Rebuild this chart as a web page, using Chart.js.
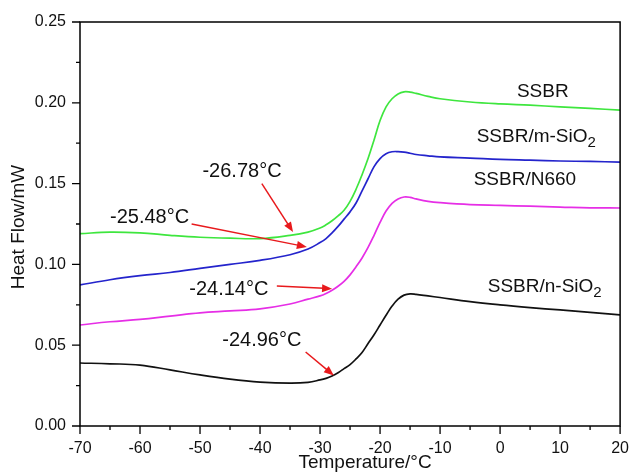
<!DOCTYPE html>
<html>
<head>
<meta charset="utf-8">
<script src="https://cdn.jsdelivr.net/npm/chart.js@4"></script>
<style>
  body { margin: 0; background: #fff; }
  #wrap { width: 634px; height: 475px; }
</style>
</head>
<body>
<div id="wrap"><canvas id="dscChart"></canvas></div>
<script>
// temperatures (°C) and heat flow readings (mW)
const temps = [-70, -65, -60, -55, -50, -45, -40, -35, -32, -30, -29, -28, -27, -26, -25, -24, -23, -22, -21, -20, -19, -18, -17, -16, -15, -14, -12, -10, -5, 0, 5, 10, 15, 20];

const ssbr = [0.119, 0.120, 0.1195, 0.118, 0.1168, 0.1162, 0.116, 0.118, 0.120, 0.1225, 0.1245, 0.127, 0.130, 0.1335, 0.139, 0.1465, 0.1555, 0.1655, 0.177, 0.189, 0.1975, 0.2025, 0.2055, 0.2068, 0.2066, 0.2058, 0.204, 0.2025, 0.2005, 0.1993, 0.1985, 0.1975, 0.1965, 0.1955];
const ssbrMSiO2 = [0.0873, 0.0905, 0.093, 0.095, 0.0975, 0.100, 0.1025, 0.106, 0.1095, 0.1135, 0.116, 0.1195, 0.1235, 0.128, 0.1325, 0.138, 0.1455, 0.153, 0.1605, 0.1655, 0.1685, 0.1697, 0.1698, 0.1695, 0.1688, 0.168, 0.1672, 0.1665, 0.1658, 0.165, 0.1645, 0.164, 0.1637, 0.1633];
const ssbrN660 = [0.0625, 0.0645, 0.066, 0.068, 0.070, 0.0712, 0.0725, 0.0755, 0.0785, 0.0805, 0.082, 0.084, 0.0865, 0.0895, 0.0935, 0.0985, 0.104, 0.1105, 0.118, 0.126, 0.133, 0.1378, 0.1405, 0.1417, 0.1415, 0.1405, 0.139, 0.1382, 0.137, 0.1365, 0.136, 0.1355, 0.135, 0.1349];
const ssbrNSiO2 = [0.039, 0.0385, 0.0377, 0.0347, 0.0316, 0.029, 0.0272, 0.0265, 0.027, 0.0285, 0.0295, 0.031, 0.033, 0.0355, 0.038, 0.0415, 0.0455, 0.051, 0.0565, 0.0625, 0.0685, 0.0742, 0.0785, 0.081, 0.0818, 0.0815, 0.0805, 0.0795, 0.077, 0.075, 0.0733, 0.0718, 0.0703, 0.0687];

// curve labels: [main text, subscript, x, y]
const curveLabels = [
  ["SSBR", "", 2.8, 0.2067],
  ["SSBR/m-SiO", "2", -3.9, 0.1788],
  ["SSBR/N660", "", -4.4, 0.1522],
  ["SSBR/n-SiO", "2", -2.05, 0.086]
];

// glass transition notes: [text, textX, textY, arrowFromX, arrowFromY, arrowToX, arrowToY]
const tgNotes = [
  ["-26.78°C", -49.6, 0.1572, -39.7, 0.150, -34.5, 0.1200],
  ["-25.48°C", -65.0, 0.1293, -51.4, 0.125, -32.2, 0.1108],
  ["-24.14°C", -51.8, 0.0842, -37.2, 0.0866, -28.0, 0.0850],
  ["-24.96°C", -46.3, 0.0532, -32.4, 0.0458, -27.7, 0.0312]
];

const xTicks = [-70, -60, -50, -40, -30, -20, -10, 0, 10, 20];
const yTicks = [0, 0.05, 0.10, 0.15, 0.20, 0.25];

function toPoints(ys) {
  return temps.map((t, i) => ({ x: t, y: ys[i] }));
}

function drawArrow(ctx, x1, y1, x2, y2) {
  const ang = Math.atan2(y2 - y1, x2 - x1);
  const head = 10;
  const half = 4;
  ctx.beginPath();
  ctx.moveTo(x1, y1);
  ctx.lineTo(x2 - head * 0.8 * Math.cos(ang), y2 - head * 0.8 * Math.sin(ang));
  ctx.stroke();
  ctx.beginPath();
  ctx.moveTo(x2, y2);
  ctx.lineTo(x2 - head * Math.cos(ang) + half * Math.sin(ang), y2 - head * Math.sin(ang) - half * Math.cos(ang));
  ctx.lineTo(x2 - head * Math.cos(ang) - half * Math.sin(ang), y2 - head * Math.sin(ang) + half * Math.cos(ang));
  ctx.closePath();
  ctx.fill();
}

// box, outward ticks, titles and annotations
const decorations = {
  id: "decorations",
  afterDraw(chart) {
    const ctx = chart.ctx;
    const xs = chart.scales.x;
    const ys = chart.scales.y;
    const a = chart.chartArea;
    ctx.save();
    ctx.strokeStyle = "#000";
    ctx.lineWidth = 1.5;
    ctx.strokeRect(a.left, a.top, a.right - a.left, a.bottom - a.top);

    ctx.lineWidth = 1.3;
    ctx.beginPath();
    for (let v = -70; v <= 20; v += 5) {
      const px = xs.getPixelForValue(v);
      const len = v % 10 === 0 ? 8 : 4;
      ctx.moveTo(px, a.bottom);
      ctx.lineTo(px, a.bottom + len);
    }
    for (let k = 0; k <= 10; k++) {
      const py = ys.getPixelForValue(k * 0.025);
      const len = k % 2 === 0 ? 8 : 4;
      ctx.moveTo(a.left, py);
      ctx.lineTo(a.left - len, py);
    }
    ctx.stroke();

    // axis titles
    ctx.fillStyle = "#111";
    ctx.font = "19px 'Liberation Sans', Arial, sans-serif";
    ctx.textAlign = "center";
    ctx.textBaseline = "middle";
    ctx.fillText("Temperature/°C", (a.left + a.right) / 2 + 15, 463);
    ctx.save();
    ctx.translate(19, (a.top + a.bottom) / 2 + 3);
    ctx.rotate(-Math.PI / 2);
    ctx.fillText("Heat Flow/mW", 0, 0);
    ctx.restore();

    // curve labels
    ctx.textAlign = "left";
    curveLabels.forEach(([txt, sub, x, y]) => {
      const px = xs.getPixelForValue(x);
      const py = ys.getPixelForValue(y);
      ctx.font = "19px 'Liberation Sans', Arial, sans-serif";
      ctx.fillText(txt, px, py);
      if (sub) {
        const w = ctx.measureText(txt).width;
        ctx.font = "15px 'Liberation Sans', Arial, sans-serif";
        ctx.fillText(sub, px + w, py + 6);
      }
    });

    // Tg notes with red arrows
    ctx.font = "20px 'Liberation Sans', Arial, sans-serif";
    ctx.strokeStyle = "#e8191c";
    ctx.fillStyle = "#e8191c";
    ctx.lineWidth = 1.5;
    tgNotes.forEach(([txt, tx, ty, fx, fy, ex, ey]) => {
      drawArrow(ctx, xs.getPixelForValue(fx), ys.getPixelForValue(fy),
        xs.getPixelForValue(ex), ys.getPixelForValue(ey));
    });
    ctx.fillStyle = "#111";
    tgNotes.forEach(([txt, tx, ty]) => {
      ctx.fillText(txt, xs.getPixelForValue(tx), ys.getPixelForValue(ty));
    });
    ctx.restore();
  }
};

const lineStyle = {
  pointRadius: 0,
  borderWidth: 1.7,
  tension: 0.4,
  fill: false
};

new Chart(document.getElementById("dscChart"), {
  type: "line",
  data: {
    datasets: [
      { label: "SSBR", data: toPoints(ssbr), borderColor: "#3ee63e", ...lineStyle },
      { label: "SSBR/m-SiO2", data: toPoints(ssbrMSiO2), borderColor: "#2424cc", ...lineStyle },
      { label: "SSBR/N660", data: toPoints(ssbrN660), borderColor: "#e62ee6", ...lineStyle },
      { label: "SSBR/n-SiO2", data: toPoints(ssbrNSiO2), borderColor: "#111111", ...lineStyle }
    ]
  },
  options: {
    responsive: true,
    maintainAspectRatio: false,
    animation: false,
    layout: { padding: { top: 22, right: 8, left: 0, bottom: 0 } },
    plugins: {
      legend: { display: false },
      tooltip: { enabled: false }
    },
    scales: {
      x: {
        type: "linear",
        min: -70,
        max: 20,
        afterBuildTicks: (s) => { s.ticks = xTicks.map((v) => ({ value: v })); },
        afterFit: (s) => { s.height = 49; },
        grid: { display: false },
        border: { display: false },
        ticks: {
          color: "#111",
          padding: 5,
          maxRotation: 0,
          font: { family: "'Liberation Sans', Arial, sans-serif", size: 16 }
        }
      },
      y: {
        min: 0,
        max: 0.25,
        afterBuildTicks: (s) => { s.ticks = yTicks.map((v) => ({ value: v })); },
        afterFit: (s) => { s.width = 80; },
        grid: { display: false },
        border: { display: false },
        ticks: {
          color: "#111",
          padding: 6,
          font: { family: "'Liberation Sans', Arial, sans-serif", size: 16 },
          callback: (v) => Number(v).toFixed(2)
        }
      }
    }
  },
  plugins: [decorations]
});
</script>
</body>
</html>
